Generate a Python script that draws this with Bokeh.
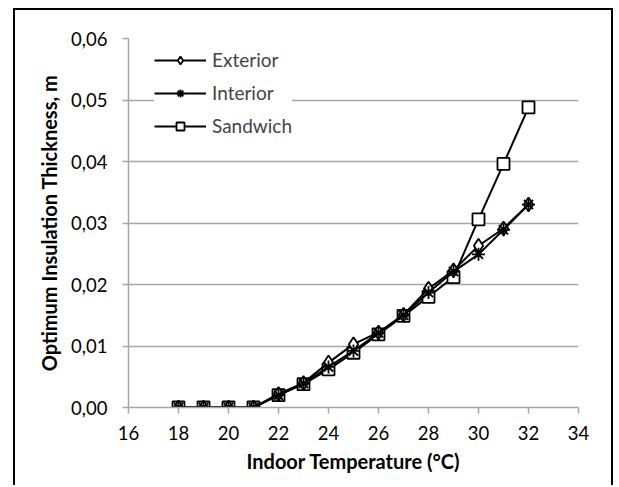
from bokeh.plotting import figure
from bokeh.models import FixedTicker, CustomJSTickFormatter, Range1d, Legend, LegendItem
from bokeh.embed import file_html
from bokeh.resources import INLINE

temps = [18, 19, 20, 21, 22, 23, 24, 25, 26, 27, 28, 29, 30, 31, 32]
exterior = [0, 0, 0, 0, 0.0022, 0.0040, 0.0073, 0.0103, 0.0122, 0.0151, 0.0193, 0.0223, 0.0263, 0.0291, 0.0330]
interior = [0, 0, 0, 0, 0.0020, 0.0039, 0.0066, 0.0092, 0.0121, 0.0150, 0.0187, 0.0221, 0.0249, 0.0289, 0.0330]
sandwich = [0, 0, 0, 0, 0.0020, 0.0038, 0.0062, 0.0089, 0.0119, 0.0149, 0.0180, 0.0212, 0.0306, 0.0396, 0.0488]
x_ticks = [16, 18, 20, 22, 24, 26, 28, 30, 32, 34]
y_ticks = [0.0, 0.01, 0.02, 0.03, 0.04, 0.05, 0.06]

FONT = "Lato"
GRID = "#a6a6a6"

p = figure(width=600, height=477, output_backend="svg", toolbar_location=None,
           x_range=Range1d(16, 34), y_range=Range1d(0, 0.06),
           min_border_left=113, min_border_right=37, min_border_top=28, min_border_bottom=80)
p.styles = {"border-left": "2px solid black", "border-top": "2px solid black",
            "border-right": "2px solid black", "margin-left": "13px", "margin-top": "8px"}
p.background_fill_color = "white"
p.border_fill_color = "white"
p.outline_line_color = None

p.xgrid.grid_line_color = None
p.ygrid.grid_line_color = GRID
p.ygrid.grid_line_width = 1.5

for ax in (p.xaxis[0], p.yaxis[0]):
    ax.axis_line_color = GRID
    ax.axis_line_width = 1.5
    ax.major_tick_line_color = GRID
    ax.major_tick_line_width = 1.5
    ax.major_tick_in = 0
    ax.major_tick_out = 6
    ax.minor_tick_line_color = None
    ax.major_label_text_font = FONT
    ax.major_label_text_font_size = "18.5px"
    ax.major_label_text_color = "black"
    ax.axis_label_text_font = FONT
    ax.axis_label_text_font_size = "20px"
    ax.axis_label_text_font_style = "bold"
    ax.axis_label_text_color = "black"

p.xaxis.ticker = FixedTicker(ticks=x_ticks)
p.yaxis.ticker = FixedTicker(ticks=y_ticks)
p.yaxis.formatter = CustomJSTickFormatter(code="return tick.toFixed(2).replace('.', ',');")
p.xaxis.axis_label = "Indoor Temperature (°C)"
p.yaxis.axis_label = "Optimum Insulation Thickness, m"
p.xaxis.major_label_standoff = 12
p.yaxis.major_label_standoff = 15
p.xaxis.axis_label_standoff = 6
p.yaxis.axis_label_standoff = 7

series = [("Sandwich", sandwich, "square", 12),
          ("Exterior", exterior, "diamond", 14),
          ("Interior", interior, "asterisk", 13)]
items = {}
for name, ys, marker, size in series:
    l = p.line(temps, ys, line_color="black", line_width=2)
    s = p.scatter(temps, ys, marker=marker, size=size, line_color="black",
                  fill_color="white", line_width=1.8)
    items[name] = [l, s]

legend = Legend(items=[LegendItem(label=n, renderers=items[n]) for n in ["Exterior", "Interior", "Sandwich"]],
                location=(26, 270))
legend.glyph_width = 52
legend.glyph_height = 20
legend.label_height = 20
legend.spacing = 10
legend.padding = 8
legend.label_standoff = 6
legend.label_text_font = FONT
legend.label_text_font_size = "19px"
legend.border_line_color = None
legend.background_fill_color = "white"
legend.background_fill_alpha = 1.0
p.add_layout(legend)

open("out.html", "w").write(file_html(p, INLINE))
